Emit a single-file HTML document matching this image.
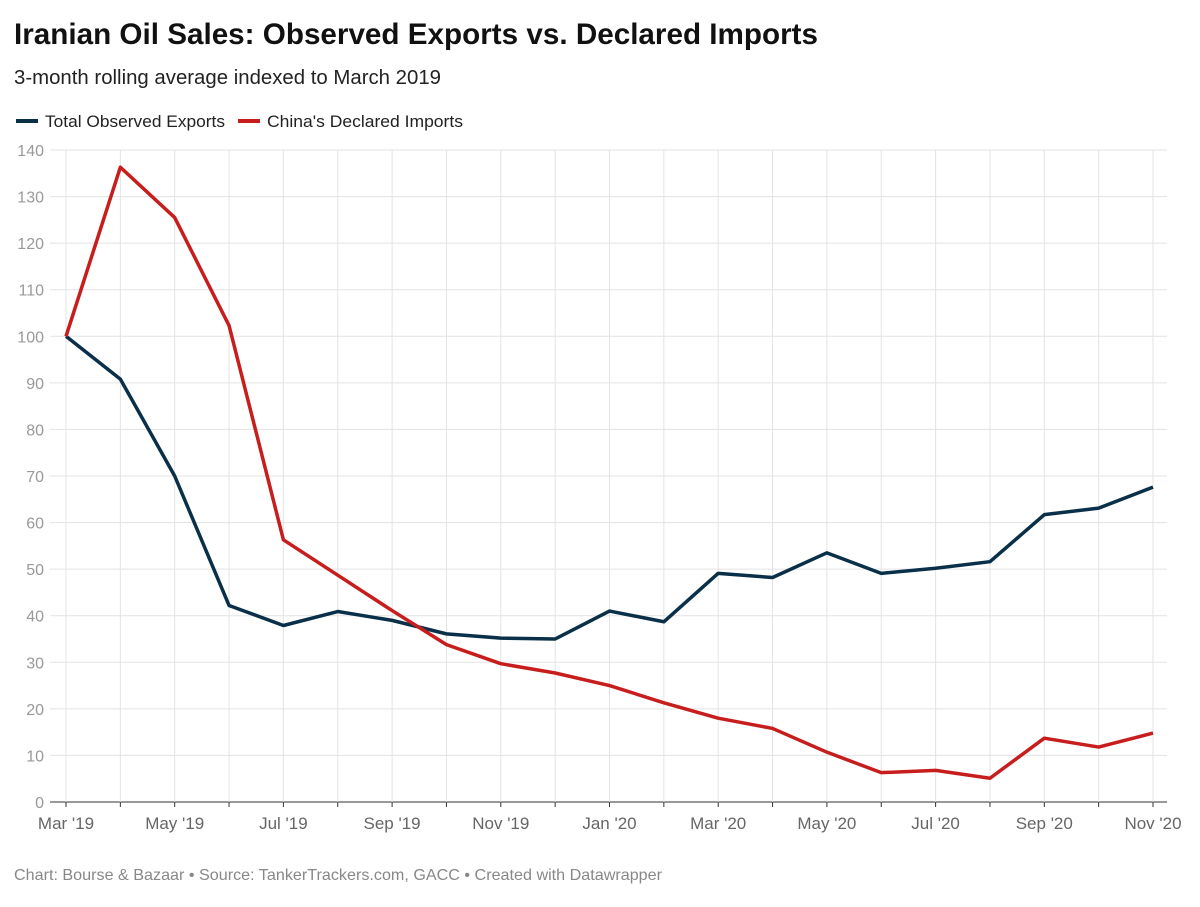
<!DOCTYPE html>
<html><head><meta charset="utf-8"><style>
body{margin:0;background:#fff;font-family:"Liberation Sans",sans-serif;width:1200px;height:907px;overflow:hidden}
svg{position:absolute;left:0;top:0}
</style></head><body>
<svg width="1200" height="907">
<text x="14" y="44" font-size="30" font-weight="bold" fill="#111" textLength="804" lengthAdjust="spacingAndGlyphs">Iranian Oil Sales: Observed Exports vs. Declared Imports</text>
<text x="14" y="84" font-size="20" fill="#222" textLength="427" lengthAdjust="spacingAndGlyphs">3-month rolling average indexed to March 2019</text>
<g>
<line x1="16" y1="121" x2="38" y2="121" stroke="#0a3049" stroke-width="4"/>
<text x="45" y="127" font-size="17" fill="#222" textLength="180" lengthAdjust="spacingAndGlyphs">Total Observed Exports</text>
<line x1="238" y1="121" x2="260" y2="121" stroke="#c71e1d" stroke-width="4"/>
<text x="267" y="127" font-size="17" fill="#222" textLength="196" lengthAdjust="spacingAndGlyphs">China's Declared Imports</text>
</g>
<g id="grid"></g><g id="axes"></g><g id="lines"></g>
<text x="14" y="880" font-size="16" fill="#888" textLength="648" lengthAdjust="spacingAndGlyphs">Chart: Bourse &amp; Bazaar • Source: TankerTrackers.com, GACC • Created with Datawrapper</text>
</svg>
<script>
const months=["Mar '19","Apr '19","May '19","Jun '19","Jul '19","Aug '19","Sep '19","Oct '19","Nov '19","Dec '19","Jan '20","Feb '20","Mar '20","Apr '20","May '20","Jun '20","Jul '20","Aug '20","Sep '20","Oct '20","Nov '20"];
const exportsVals=[100,90.8,70,42.2,37.9,40.9,39,36.1,35.2,35,41,38.7,49.1,48.2,53.5,49.1,50.2,51.6,61.7,63.1,67.6];
const chinaVals=[100,136.3,125.5,102.3,56.3,48.7,41.1,33.8,29.7,27.7,25,21.3,18,15.8,10.7,6.3,6.8,5.1,13.7,11.8,14.8];
const yTicks=[0,10,20,30,40,50,60,70,80,90,100,110,120,130,140];
const xLabelIdx=[0,2,4,6,8,10,12,14,16,18,20];
const NS="http://www.w3.org/2000/svg";
const x=i=>66+i*(1153-66)/(months.length-1);
const y=v=>802-v*(802-150)/140;
function mk(t,a,p){const e=document.createElementNS(NS,t);for(const k in a)e.setAttribute(k,a[k]);p.appendChild(e);return e;}
const g=document.getElementById('grid'),ax=document.getElementById('axes'),ln=document.getElementById('lines');
yTicks.forEach(v=>{
 const l=mk('line',{x1:50,x2:1167,y1:y(v),y2:y(v),stroke:v===0?'#333':'#e3e3e3','stroke-width':1},g);
 
 
 const t=mk('text',{x:44,y:y(v)+6,'text-anchor':'end','font-size':16,fill:'#999'},ax);
 t.textContent=v;
 
 
});
months.forEach((m,i)=>{
 const l=mk('line',{x1:x(i),x2:x(i),y1:150,y2:802,stroke:'#e3e3e3','stroke-width':1},g);
 
 
 const tk=mk('line',{x1:x(i),x2:x(i),y1:802,y2:807,stroke:'#333'},ax);
 
 
});
xLabelIdx.forEach(i=>{
 const t=mk('text',{x:x(i),y:829,'text-anchor':'middle','font-size':17,fill:'#666'},ax);
 t.textContent=months[i];
 
 
});
function line(vals,col,name){
 const p=mk('polyline',{points:vals.map((v,i)=>x(i)+','+y(v)).join(' '),fill:'none',stroke:col,'stroke-width':3.5,'stroke-linejoin':'round'},ln);
 
 
}
line(exportsVals,'#0a3049','line-total-observed-exports');
line(chinaVals,'#c71e1d','line-china-declared-imports');
</script>
</body></html>
